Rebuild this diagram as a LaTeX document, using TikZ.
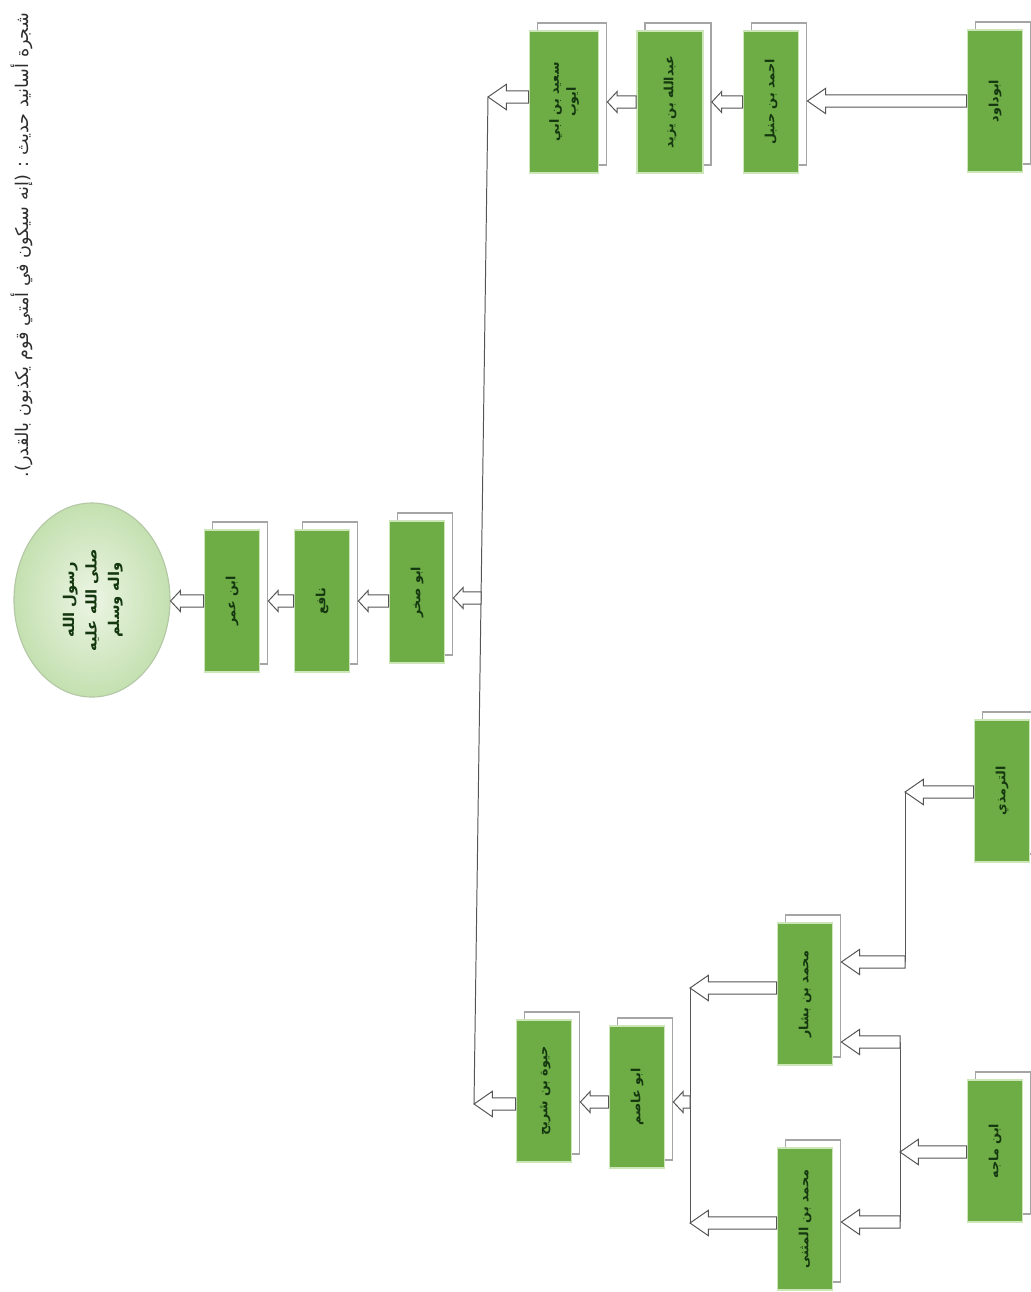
\documentclass[tikz,border=0pt]{standalone}
\usepackage{fontspec}
\newfontfamily\arabicfont[Script=Arabic]{DejaVu Sans}
\TeXXeTstate=1
\usetikzlibrary{calc,shadows,shapes.geometric}
\newcommand{\ar}[1]{\beginR #1\endR}
\newcommand{\vtext}[1]{\rotatebox{90}{\begin{tabular}{@{}c@{}}#1\end{tabular}}}
\def\shafth{4.3pt}\def\headh{7.5pt}\def\headl{7pt}
\tikzset{
  rawi/.style={rectangle, fill=boxgreen, draw=glowgreen, line width=1.2pt, inner sep=0pt,
    minimum width=1.375cm, minimum height=3.55cm, text=textgreen,
    font=\arabicfont\bfseries\fontsize{9}{12}\selectfont,
    general shadow={fill=white, draw=shadowgray, line width=1pt,
      shadow xshift=0.2cm, shadow yshift=0.2cm}},
  rasulbox/.style={ellipse, inner color=ellipin, outer color=ellipout, draw=ellipdraw,
    line width=0.8pt, minimum width=3.9cm, minimum height=4.85cm, text=textgreen,
    font=\arabicfont\bfseries\fontsize{10.5}{16}\selectfont},
  harrow/.style={draw=arrowgray, fill=white, line width=0.7pt, to path={
    let \p1=(\tikztostart), \p2=(\tikztotarget) in
    (\x1,\y1+\shafth) -- (\x2+\headl,\y1+\shafth) -- (\x2+\headl,\y1+\headh) -- (\x2,\y1)
    -- (\x2+\headl,\y1-\headh) -- (\x2+\headl,\y1-\shafth) -- (\x1,\y1-\shafth) -- cycle}},
  long head/.code={\def\headh{9pt}\def\headl{13pt}},
  trunk/.style={draw=arrowgray, line width=0.7pt},
}
\begin{document}
\begin{tikzpicture}[x=0.025cm, y=-0.025cm]
  %colores
  \definecolor{boxgreen}{RGB}{110,172,70}
  \definecolor{glowgreen}{RGB}{205,230,185}
  \definecolor{shadowgray}{RGB}{165,165,165}
  \definecolor{textgreen}{RGB}{20,55,15}
  \definecolor{arrowgray}{RGB}{85,85,85}
  \definecolor{ellipin}{RGB}{236,245,228}
  \definecolor{ellipout}{RGB}{196,224,176}
  \definecolor{ellipdraw}{RGB}{180,200,165}
  \definecolor{titlegray}{RGB}{45,45,45}
  \useasboundingbox (0,0) rectangle (1030,1292);

  % titulo
  \node[rotate=90, text=titlegray, font=\arabicfont\fontsize{12.5}{14}\selectfont] (titulo) at (22,245)
    {\ar{شجرة أسانيد حديث : (إنه سيكون في أمتي قوم يكذبون بالقدر).}};

  % cadena central
  \node[rasulbox] (rasul) at (92,600) {\vtext{\ar{رسول الله}\\ \ar{صلى الله عليه}\\ \ar{واله وسلم}}};
  \node[rawi] (ibnumar) at (232,601) {\vtext{\ar{ابن عمر}}};
  \node[rawi] (nafi) at (322,601) {\vtext{\ar{نافع}}};
  \node[rawi] (abusakhr) at (417,592) {\vtext{\ar{ابو صخر}}};

  % rama superior
  \node[rawi, minimum width=1.725cm] (saeed) at (564,102) {\vtext{\ar{سعيد بن ابي}\\ \ar{ايوب}}};
  \node[rawi, minimum width=1.65cm] (abdullah) at (670,102) {\vtext{\ar{عبدالله بن يزيد}}};
  \node[rawi] (ahmad) at (771,102) {\vtext{\ar{احمد بن حنبل}}};
  \node[rawi] (abudawud) at (995,101) {\vtext{\ar{ابوداود}}};

  % rama inferior
  \node[rawi] (haywa) at (544,1091) {\vtext{\ar{حيوة بن شريح}}};
  \node[rawi] (abuasim) at (637,1097) {\vtext{\ar{ابو عاصم}}};
  \node[rawi] (bashshar) at (805,994) {\vtext{\ar{محمد بن بشار}}};
  \node[rawi] (muthanna) at (805,1219) {\vtext{\ar{محمد بن المثنى}}};
  \node[rawi] (tirmidhi) at (1002,791) {\vtext{\ar{الترمذي}}};
  \node[rawi] (ibnmajah) at (995,1151) {\vtext{\ar{ابن ماجه}}};

  % puntos de union
  \coordinate (trunktop) at (488,97);
  \coordinate (trunkmid) at (481,598);
  \coordinate (trunkbot) at (474,1104);
  \coordinate (asimtop) at (690,988);
  \coordinate (asimmid) at (690,1102);
  \coordinate (asimbot) at (690,1223);
  \coordinate (tirtop) at (905,792);
  \coordinate (tirbot) at (905,962);
  \coordinate (majtop) at (900,1042);
  \coordinate (majmid) at (900,1152);
  \coordinate (majbot) at (900,1222);

  % lineas
  \draw[trunk] (trunktop) -- (trunkbot);
  \draw[trunk] (asimtop) -- (asimbot);
  \draw[trunk] (tirtop) -- (tirbot);
  \draw[trunk] (majtop) -- (majbot);

  % flechas
  \draw[harrow] (ibnumar.west) to (rasul.east);
  \draw[harrow] (nafi.west) to ([xshift=0.2cm]ibnumar.east);
  \draw[harrow] (abusakhr.west |- nafi.west) to ([xshift=0.2cm]nafi.east);
  \draw[harrow] (trunkmid) to ([xshift=0.2cm]abusakhr.east);
  \draw[harrow, long head] (saeed.west |- trunktop) to (trunktop);
  \draw[harrow] (abdullah.west) to ([xshift=0.2cm]saeed.east);
  \draw[harrow] (ahmad.west) to ([xshift=0.2cm]abdullah.east);
  \draw[harrow, long head] (abudawud.west) to ([xshift=0.2cm]ahmad.east);
  \draw[harrow, long head] (haywa.west |- trunkbot) to (trunkbot);
  \draw[harrow] (abuasim.west |- asimmid) to ([xshift=0.2cm]haywa.east);
  \draw[harrow] (asimmid) to ([xshift=0.2cm]abuasim.east);
  \draw[harrow, long head] (bashshar.west |- asimtop) to (asimtop);
  \draw[harrow, long head] (muthanna.west |- asimbot) to (asimbot);
  \draw[harrow, long head] (tirmidhi.west |- tirtop) to (tirtop);
  \draw[harrow, long head] (tirbot) to ([xshift=0.2cm]bashshar.east);
  \draw[harrow, long head] (ibnmajah.west |- majmid) to (majmid);
  \draw[harrow, long head] (majtop) to ([xshift=0.2cm]bashshar.east);
  \draw[harrow, long head] (majbot) to ([xshift=0.2cm]muthanna.east);
\end{tikzpicture}
\end{document}
